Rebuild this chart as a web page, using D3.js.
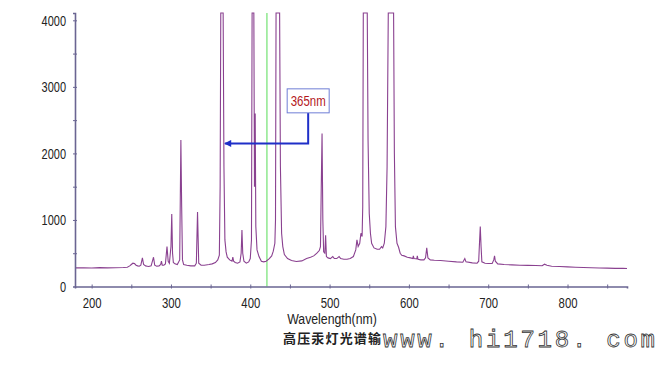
<!DOCTYPE html>
<html>
<head>
<meta charset="utf-8">
<script src="https://cdn.jsdelivr.net/npm/d3@7"></script>
<style>
  body { margin: 0; background: #fff; }
  svg { display: block; }
  .tick text, .narrow { font-family: "Liberation Sans", Arial, sans-serif; font-size: 15px; fill: #222; }
</style>
</head>
<body>
<svg id="chart" width="670" height="370"></svg>
<script>
// wavelength (nm) and counts; saturated lines sit at the top (4110)
const wavelength = [179, 190, 200, 210, 220, 230, 240, 245, 248, 250, 252, 254, 256, 258, 260, 262, 264, 265.5, 268, 270,
  272, 275, 278, 279.5, 282, 285, 287, 288, 289, 291, 293, 295, 296.5, 298, 300, 301, 302, 303, 305, 308,
  311, 312.5, 313.5, 314.5, 316, 320, 325, 330, 332, 333.5, 335, 338, 342, 348, 352, 356, 359, 361, 362, 362.8,
  365.8, 366.8, 368, 369.5, 371, 374, 377, 378, 379, 381, 384, 387, 388.5, 389.5, 390.5, 392, 395, 398, 400, 401.5,
  402.3, 404.5, 405.3, 406.2, 407, 408.5, 411, 414, 417, 420, 424, 427, 429, 431, 431.8, 432.5, 437, 438, 439.5, 441,
  443, 447, 452, 458, 465, 471, 476, 480, 484, 487, 488.5, 489.5, 490.5, 491.5, 492.5, 494, 495, 496, 498, 501,
  504, 506, 509, 512, 514, 518, 522, 526, 530, 533, 534.5, 536, 538, 539.5, 541, 541.8, 542.5, 547.5, 548.5, 550,
  551.5, 553, 556, 560, 563, 565.5, 567, 569, 571, 572.5, 574, 580.7, 581.7, 583, 585, 587, 589, 591, 594, 598,
  602, 605, 605.6, 606.5, 610, 610.6, 611.5, 615, 619, 621, 622.5, 624, 627, 632, 640, 650, 660, 668, 670.5, 672,
  680, 686, 688, 689, 690, 691, 692, 696, 700, 705, 707, 708, 709, 712, 720, 730, 740, 750, 760, 768,
  771, 774, 780, 790, 800, 810, 820, 830, 840, 850, 860, 870, 875];
const counts = [280, 282, 278, 283, 280, 282, 285, 290, 310, 330, 350, 345, 320, 310, 305, 320, 430, 330, 310, 305,
  300, 310, 440, 320, 305, 310, 330, 380, 320, 320, 340, 600, 380, 350, 600, 1090, 500, 360, 340, 330,
  400, 2200, 1200, 400, 330, 320, 310, 310, 350, 1120, 350, 320, 320, 330, 340, 360, 400, 470, 1500, 4110,
  4110, 1800, 700, 520, 440, 400, 380, 440, 380, 360, 350, 370, 500, 850, 500, 380, 350, 370, 420, 700,
  4110, 4110, 1500, 2600, 900, 550, 450, 380, 370, 380, 420, 460, 530, 650, 1000, 4110, 4110, 1800, 800, 600,
  480, 420, 390, 375, 385, 420, 440, 460, 500, 540, 600, 1500, 2300, 1000, 520, 500, 770, 450, 430, 420,
  450, 420, 420, 450, 420, 410, 410, 420, 450, 550, 700, 600, 650, 800, 750, 1200, 4110, 4110, 2200, 1100,
  800, 650, 580, 560, 560, 600, 580, 650, 900, 1800, 4110, 4110, 2000, 900, 650, 590, 500, 470, 460, 440,
  430, 420, 460, 420, 415, 460, 410, 400, 400, 430, 580, 430, 400, 395, 390, 380, 370, 365, 420, 370,
  355, 350, 380, 650, 900, 600, 370, 350, 345, 345, 400, 460, 380, 340, 330, 325, 320, 318, 315, 312,
  335, 318, 305, 300, 295, 290, 285, 282, 278, 276, 273, 272, 270];

const xTicks = [200, 250, 300, 350, 400, 450, 500, 550, 600, 650, 700, 750, 800, 850];
const yTicks = [0, 500, 1000, 1500, 2000, 2500, 3000, 3500, 4000];
const markerNm = [421];
const note = { label: "365nm", tipNm: 368, tipVal: 2150, boxNm: 473, boxVal: 2790 };

const svg = d3.select("#chart");
const x = d3.scaleLinear().domain([179, 875]).range([75, 627]);
const y = d3.scaleLinear().domain([0, 4110]).range([286.5, 13]);

const spectrum = wavelength.map((w, i) => ({ w, c: counts[i] }));

// squeeze text to the narrow face of the original
const narrow = (sel, perChar) =>
  sel.each(function () {
    const t = d3.select(this);
    const n = t.text().length;
    if (n) t.attr("textLength", n * perChar).attr("lengthAdjust", "spacingAndGlyphs");
  });

// green marker line
svg.selectAll(".marker")
  .data(markerNm)
  .enter()
  .append("line")
  .attr("class", "marker")
  .attr("x1", d => x(d)).attr("x2", d => x(d))
  .attr("y1", y.range()[1]).attr("y2", y.range()[0])
  .attr("stroke", "#72e272")
  .attr("stroke-width", 1.2);

// spectrum line
const line = d3.line().x(d => x(d.w)).y(d => y(d.c));
svg.append("path")
  .datum(spectrum)
  .attr("d", line)
  .attr("fill", "none")
  .attr("stroke", "#8a4190")
  .attr("stroke-width", 1.1);

// axes
const xAxis = svg.append("g")
  .attr("transform", `translate(0,${y(0)})`)
  .call(d3.axisBottom(x).tickValues(xTicks).tickSizeOuter(0).tickSize(2)
    .tickFormat(d => (d % 100 === 0 ? d : "")));
xAxis.selectAll(".tick line").attr("y1", -2).attr("y2", 2);
xAxis.selectAll(".tick text").attr("dy", "1.1em").call(narrow, 6.3);
xAxis.selectAll(".tick").filter(d => d % 100 !== 0).select("text").remove();

const yAxis = svg.append("g")
  .attr("transform", `translate(${x.range()[0]},0)`)
  .call(d3.axisLeft(y).tickValues(yTicks).tickSizeOuter(0).tickSize(2)
    .tickFormat(d => (d % 1000 === 0 ? d : "")));
yAxis.selectAll(".tick line").attr("x1", 2).attr("x2", -2);
yAxis.selectAll(".tick text").attr("x", -9).call(narrow, 6.1);
yAxis.selectAll(".tick").filter(d => d % 1000 !== 0).select("text").remove();

svg.selectAll(".domain").attr("stroke", "#6a6592").attr("stroke-width", 1.6);
svg.selectAll(".tick line").attr("stroke", "#6a6592");
svg.selectAll(".tick").filter(d => d === 0).select("line").attr("stroke", "none");

svg.append("text")
  .attr("class", "narrow")
  .attr("x", 332)
  .attr("y", 324)
  .attr("text-anchor", "middle")
  .style("font-size", "14px")
  .text("Wavelength(nm)")
  .call(narrow, 6.4);

// annotation
svg.append("defs").append("marker")
  .attr("id", "arrow")
  .attr("viewBox", "0 0 10 10")
  .attr("refX", 9).attr("refY", 5)
  .attr("markerWidth", 4).attr("markerHeight", 3.5)
  .attr("orient", "auto")
  .append("path")
  .attr("d", "M0,0 L10,5 L0,10 Z")
  .attr("fill", "#1f2fc8");

const bx = x(note.boxNm);
const by = y(note.boxVal);
svg.append("path")
  .attr("d", `M${bx},${by + 12} V${y(note.tipVal)} H${x(note.tipNm)}`)
  .attr("fill", "none")
  .attr("stroke", "#1f2fc8")
  .attr("stroke-width", 2)
  .attr("marker-end", "url(#arrow)");
svg.append("rect")
  .attr("x", bx - 21).attr("y", by - 12)
  .attr("width", 42).attr("height", 24)
  .attr("fill", "#fff")
  .attr("stroke", "#6f7ed6")
  .attr("stroke-width", 1);
svg.append("text")
  .attr("class", "narrow")
  .attr("x", bx).attr("y", by + 5.5)
  .attr("text-anchor", "middle")
  .style("fill", "#b3161b")
  .text(note.label)
  .call(narrow, 7);

// caption + watermark
svg.append("text")
  .attr("x", 283).attr("y", 343)
  .attr("textLength", 98)
  .style("font-family", '"Noto Sans CJK SC", sans-serif')
  .style("font-size", "13px")
  .style("font-weight", "bold")
  .attr("fill", "#222")
  .text("高压汞灯光谱输");
svg.append("text")
  .attr("x", 383).attr("y", 347)
  .attr("textLength", 272)
  .attr("lengthAdjust", "spacing")
  .style("font-family", '"Liberation Mono", monospace')
  .style("font-size", "24px")
  .attr("fill", "#fff")
  .attr("stroke", "#333")
  .attr("stroke-width", 0.8)
  .text("www. hi1718. com");
</script>
</body>
</html>
